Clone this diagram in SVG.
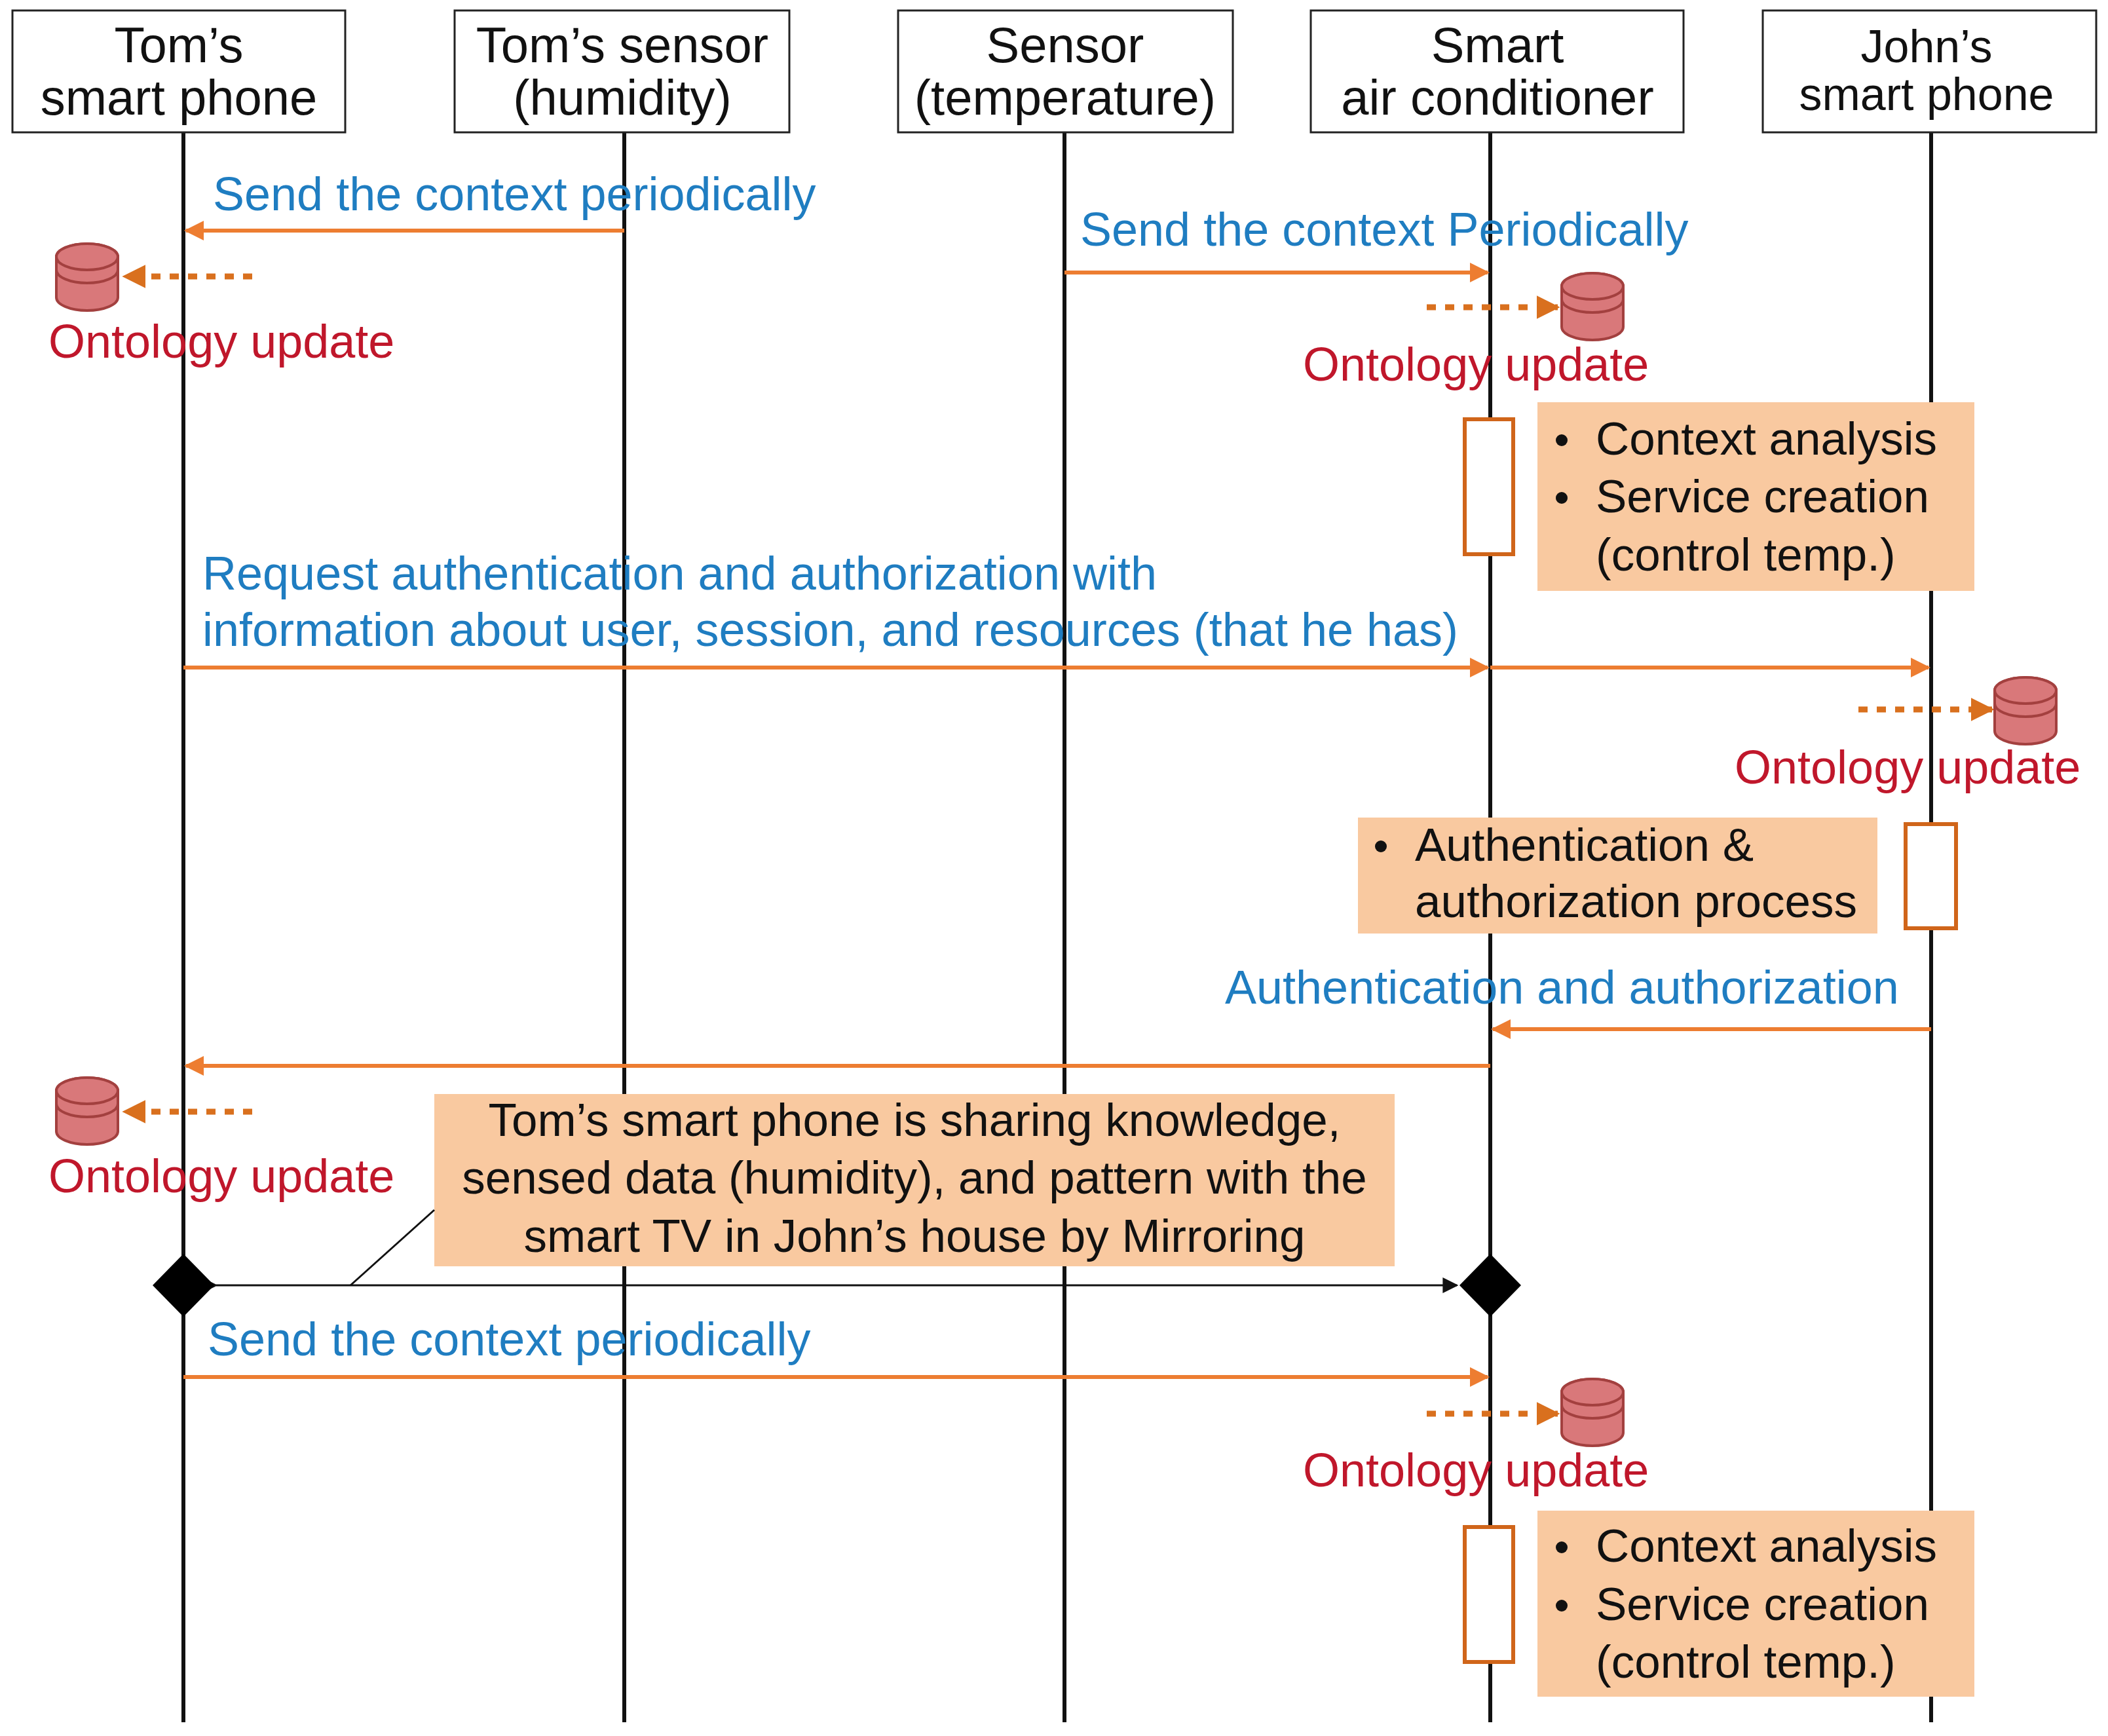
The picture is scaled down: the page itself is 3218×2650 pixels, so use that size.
<svg xmlns="http://www.w3.org/2000/svg" width="3218" height="2650" viewBox="0 0 3218 2650">
<style>
.hd{fill:#fff;stroke:#222;stroke-width:3}
.ht{font-family:"Liberation Sans",Arial,sans-serif;font-size:76px;fill:#111;text-anchor:middle}
.ll{stroke:#111;stroke-width:6}
.msg{stroke:#ED7D31;stroke-width:6;fill:none}
.dash{stroke:#D9701E;stroke-width:9;stroke-dasharray:14 14;fill:none}
.bl{font-family:"Liberation Sans",Arial,sans-serif;font-size:72px;fill:#1F7DC1}
.rd{font-family:"Liberation Sans",Arial,sans-serif;font-size:72px;fill:#C0172B}
.nt{fill:#F9C9A0}
.tx{font-family:"Liberation Sans",Arial,sans-serif;font-size:71px;fill:#111}
.act{fill:#fff;stroke:#D0651A;stroke-width:6}
.cyl{fill:#D9787A;stroke:#A3403F;stroke-width:4}
</style>
<defs>
<marker id="ah" viewBox="0 0 10 10" refX="9" refY="5" markerWidth="5" markerHeight="5" orient="auto" markerUnits="strokeWidth"><path d="M0,0 L10,5 L0,10 z" fill="#ED7D31"/></marker>
<marker id="ad" viewBox="0 0 10 10" refX="9" refY="5" markerWidth="4" markerHeight="4" orient="auto" markerUnits="strokeWidth"><path d="M0,0 L10,5 L0,10 z" fill="#D9701E"/></marker>
<marker id="ab" viewBox="0 0 10 10" refX="9" refY="5" markerWidth="8" markerHeight="8" orient="auto" markerUnits="strokeWidth"><path d="M0,0 L10,5 L0,10 z" fill="#111"/></marker>
<g id="cy"><path class="cyl" d="M0,20 A47,20 0 0 1 94,20 L94,82 A47,20 0 0 1 0,82 Z"/><path class="cyl" d="M0,20 A47,20 0 0 0 94,20 A47,20 0 0 0 0,20 Z"/><path d="M0,40 A47,20 0 0 0 94,40" fill="none" stroke="#A3403F" stroke-width="4"/></g>
</defs>
<rect width="3218" height="2650" fill="#fff"/>
<g id="lifelines">
<line class="ll" x1="280" y1="202" x2="280" y2="2629"/>
<line class="ll" x1="953" y1="202" x2="953" y2="2629"/>
<line class="ll" x1="1625" y1="202" x2="1625" y2="2629"/>
<line class="ll" x1="2275" y1="202" x2="2275" y2="2629"/>
<line class="ll" x1="2948" y1="202" x2="2948" y2="2629"/>
</g>
<g id="h1"><rect class="hd" x="19" y="16" width="508" height="186"/><text class="ht" x="273" y="95">Tom’s</text><text class="ht" x="273" y="175">smart phone</text></g>
<g id="h2"><rect class="hd" x="694" y="16" width="511" height="186"/><text class="ht" x="950" y="95">Tom’s sensor</text><text class="ht" x="950" y="175">(humidity)</text></g>
<g id="h3"><rect class="hd" x="1371" y="16" width="511" height="186"/><text class="ht" x="1626" y="95">Sensor</text><text class="ht" x="1626" y="175">(temperature)</text></g>
<g id="h4"><rect class="hd" x="2001" y="16" width="569" height="186"/><text class="ht" x="2286" y="95">Smart</text><text class="ht" x="2286" y="175">air conditioner</text></g>
<g id="h5"><rect class="hd" x="2691" y="16" width="509" height="186"/><text class="ht" x="2941" y="95" style="font-size:70px">John’s</text><text class="ht" x="2941" y="168" style="font-size:70px">smart phone</text></g>
<g id="notes">
<rect class="nt" x="2347" y="614" width="667" height="288"/>
<circle cx="2384" cy="672" r="9" fill="#111"/><text class="tx" x="2436" y="694">Context analysis</text>
<circle cx="2384" cy="760" r="9" fill="#111"/><text class="tx" x="2436" y="782">Service creation</text>
<text class="tx" x="2436" y="871">(control temp.)</text>
<rect class="nt" x="2073" y="1248" width="793" height="177"/>
<circle cx="2108" cy="1292" r="9" fill="#111"/><text class="tx" x="2160" y="1314">Authentication &amp;</text>
<text class="tx" x="2160" y="1400">authorization process</text>
<rect class="nt" x="663" y="1670" width="1466" height="263"/>
<text class="tx" x="1396" y="1734" text-anchor="middle">Tom’s smart phone is sharing knowledge,</text>
<text class="tx" x="1396" y="1822" text-anchor="middle">sensed data (humidity), and pattern with the</text>
<text class="tx" x="1396" y="1911" text-anchor="middle">smart TV in John’s house by Mirroring</text>
<rect class="nt" x="2347" y="2306" width="667" height="284"/>
<circle cx="2384" cy="2362" r="9" fill="#111"/><text class="tx" x="2436" y="2384">Context analysis</text>
<circle cx="2384" cy="2451" r="9" fill="#111"/><text class="tx" x="2436" y="2473">Service creation</text>
<text class="tx" x="2436" y="2561">(control temp.)</text>
</g>
<g id="activations">
<rect class="act" x="2236" y="640" width="74" height="206"/>
<rect class="act" x="2909" y="1258" width="77" height="159"/>
<rect class="act" x="2236" y="2331" width="74" height="206"/>
</g>
<g id="connectors">
<line class="msg" x1="953" y1="352" x2="284" y2="352" marker-end="url(#ah)"/>
<line class="dash" x1="385" y1="422" x2="190" y2="422" marker-end="url(#ad)"/>
<line class="msg" x1="1625" y1="416" x2="2271" y2="416" marker-end="url(#ah)"/>
<line class="dash" x1="2178" y1="469" x2="2378" y2="469" marker-end="url(#ad)"/>
<line class="msg" x1="280" y1="1019" x2="2271" y2="1019" marker-end="url(#ah)"/>
<line class="msg" x1="2275" y1="1019" x2="2944" y2="1019" marker-end="url(#ah)"/>
<line class="dash" x1="2837" y1="1083" x2="3041" y2="1083" marker-end="url(#ad)"/>
<line class="msg" x1="2948" y1="1571" x2="2279" y2="1571" marker-end="url(#ah)"/>
<line class="msg" x1="2275" y1="1627" x2="284" y2="1627" marker-end="url(#ah)"/>
<line class="dash" x1="385" y1="1697" x2="190" y2="1697" marker-end="url(#ad)"/>
<line x1="330" y1="1962" x2="2224" y2="1962" stroke="#111" stroke-width="3" marker-start="url(#ab)" marker-end="url(#ab)"/>
<line x1="663" y1="1847" x2="535" y2="1962" stroke="#111" stroke-width="3"/>
<line class="msg" x1="280" y1="2102" x2="2271" y2="2102" marker-end="url(#ah)"/>
<line class="dash" x1="2178" y1="2158" x2="2378" y2="2158" marker-end="url(#ad)"/>
<path d="M280,1914 L327,1962 L280,2010 L233,1962 Z" fill="#000"/>
<path d="M2275,1914 L2322,1962 L2275,2010 L2228,1962 Z" fill="#000"/>
</g>
<g id="labels">
<text class="bl" x="325" y="321">Send the context periodically</text>
<text class="bl" x="1649" y="375">Send the context Periodically</text>
<text class="bl" x="309" y="900">Request authentication and authorization with</text>
<text class="bl" x="309" y="986">information about user, session, and resources (that he has)</text>
<text class="bl" x="1870" y="1532">Authentication and authorization</text>
<text class="bl" x="317" y="2069">Send the context periodically</text>
<text class="rd" x="74" y="546">Ontology update</text>
<text class="rd" x="1989" y="581">Ontology update</text>
<text class="rd" x="2648" y="1196">Ontology update</text>
<text class="rd" x="74" y="1820">Ontology update</text>
<text class="rd" x="1989" y="2269">Ontology update</text>
</g>
<g id="databases">
<use href="#cy" x="86" y="372"/>
<use href="#cy" x="2384" y="417"/>
<use href="#cy" x="3045" y="1034"/>
<use href="#cy" x="86" y="1645"/>
<use href="#cy" x="2384" y="2105"/>
</g>
</svg>
